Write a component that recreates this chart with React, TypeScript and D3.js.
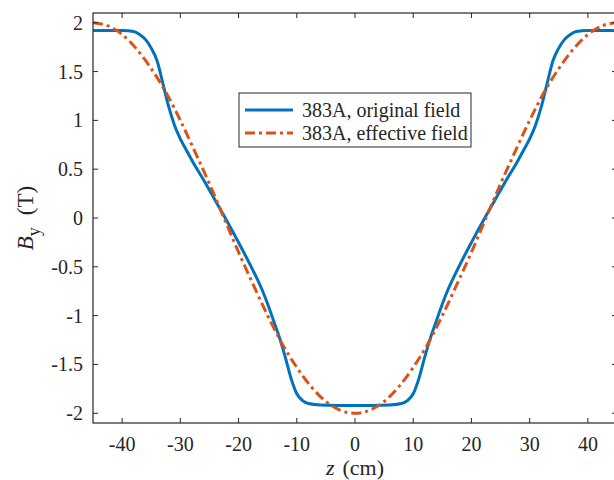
import React from "react";
import * as d3 from "d3";

// original field
const zOriginal = [
  -45, -40, -38, -37, -36, -35, -34, -33, -32, -31, -30, -29, -28, -26, -24, -22,
  -20, -18, -16, -15, -14, -13, -12, -11, -10, -9, -8, -6, -3, 0, 3, 6, 8, 9, 10,
  11, 12, 13, 14, 15, 16, 18, 20, 22, 24, 26, 28, 29, 30, 31, 32, 33, 34, 35, 36,
  37, 38, 40, 45,
];
const bOriginal = [
  1.92, 1.92, 1.91, 1.88, 1.83, 1.74, 1.61, 1.38, 1.14, 0.95, 0.81, 0.7, 0.59,
  0.39, 0.18, -0.03, -0.25, -0.48, -0.73, -0.88, -1.05, -1.22, -1.42, -1.64, -1.8,
  -1.87, -1.9, -1.915, -1.92, -1.92, -1.92, -1.915, -1.9, -1.87, -1.8, -1.64,
  -1.42, -1.22, -1.05, -0.88, -0.73, -0.48, -0.25, -0.03, 0.18, 0.39, 0.59, 0.7,
  0.81, 0.95, 1.14, 1.38, 1.61, 1.74, 1.83, 1.88, 1.91, 1.92, 1.92,
];

// effective field
const zEffective = [
  -45, -42.5, -40, -37.5, -35, -32.5, -30, -27.5, -25, -22.5, -20, -17.5, -15,
  -12.5, -10, -7.5, -5, -2.5, 0, 2.5, 5, 7.5, 10, 12.5, 15, 17.5, 20, 22.5, 25,
  27.5, 30, 32.5, 35, 37.5, 40, 42.5, 45,
];
const bEffective = [
  2.0, 1.97, 1.88, 1.73, 1.53, 1.29, 1.0, 0.68, 0.35, 0.0, -0.35, -0.68, -1.0,
  -1.29, -1.53, -1.73, -1.88, -1.97, -2.0, -1.97, -1.88, -1.73, -1.53, -1.29,
  -1.0, -0.68, -0.35, 0.0, 0.35, 0.68, 1.0, 1.29, 1.53, 1.73, 1.88, 1.97, 2.0,
];

const xTicks = [-40, -30, -20, -10, 0, 10, 20, 30, 40];
const yTicks = [-2, -1.5, -1, -0.5, 0, 0.5, 1, 1.5, 2];
const seriesNames = ["383A, original field", "383A, effective field"];

const W = 614;
const H = 480;
const left = 93;
const right = 617;
const top = 13;
const bottom = 423;
const font = "'Liberation Serif', 'Times New Roman', serif";
const axisColor = "#262626";
const blue = "#0072BD";
const orange = "#D95319";

export default function App() {
  const x = d3.scaleLinear().domain([-45, 45]).range([left, right]);
  const y = d3.scaleLinear().domain([-2.1, 2.1]).range([bottom, top]);

  const line = d3
    .line<[number, number]>()
    .x((d) => x(d[0]))
    .y((d) => y(d[1]))
    .curve(d3.curveMonotoneX);

  const orig = zOriginal.map((z, i) => [z, bOriginal[i]] as [number, number]);
  const eff = zEffective.map((z, i) => [z, bEffective[i]] as [number, number]);

  const fmt = (v: number) => String(v);

  return (
    <svg
      width={W}
      height={H}
      style={{ position: "absolute", left: 0, top: 0, background: "#fff" }}
      fontFamily={font}
    >
      <defs>
        <clipPath id="plot">
          <rect x={left} y={top} width={right - left} height={bottom - top} />
        </clipPath>
      </defs>

      <g clipPath="url(#plot)" fill="none">
        <path d={line(orig) || ""} stroke={blue} strokeWidth={3} />
        <path
          d={line(eff) || ""}
          stroke={orange}
          strokeWidth={3}
          strokeDasharray="10,4,3,4"
        />
      </g>

      {/* box */}
      <rect
        x={left}
        y={top}
        width={right - left}
        height={bottom - top}
        fill="none"
        stroke={axisColor}
        strokeWidth={1.2}
      />

      {xTicks.map((t) => (
        <g key={"x" + t}>
          <line x1={x(t)} x2={x(t)} y1={bottom} y2={bottom - 5} stroke={axisColor} />
          <line x1={x(t)} x2={x(t)} y1={top} y2={top + 5} stroke={axisColor} />
          <text
            x={x(t)}
            y={451}
            textAnchor="middle"
            fontSize={20}
            fill={axisColor}
          >
            {fmt(t)}
          </text>
        </g>
      ))}

      {yTicks.map((t) => (
        <g key={"y" + t}>
          <line x1={left} x2={left + 5} y1={y(t)} y2={y(t)} stroke={axisColor} />
          <line x1={right} x2={right - 5} y1={y(t)} y2={y(t)} stroke={axisColor} />
          <text
            x={83}
            y={y(t)}
            dy="0.35em"
            textAnchor="end"
            fontSize={20}
            fill={axisColor}
          >
            {fmt(t)}
          </text>
        </g>
      ))}

      {/* axis labels */}
      <text x={355} y={475} textAnchor="middle" fontSize={22} fill={axisColor}>
        <tspan fontStyle="italic">z</tspan>
        <tspan dx={8}>(cm)</tspan>
      </text>
      <text
        transform={`translate(33, ${y(0)}) rotate(-90)`}
        textAnchor="middle"
        fontSize={23}
        fill={axisColor}
      >
        <tspan fontStyle="italic">B</tspan>
        <tspan fontSize={18} dy={7}>y</tspan>
        <tspan dy={-7} dx={12}>(T)</tspan>
      </text>

      {/* legend */}
      <g>
        <rect
          x={239}
          y={93}
          width={232}
          height={54}
          fill="#fff"
          stroke={axisColor}
          strokeWidth={1}
        />
        <line x1={245} x2={293} y1={110} y2={110} stroke={blue} strokeWidth={3} />
        <line
          x1={245}
          x2={293}
          y1={133}
          y2={133}
          stroke={orange}
          strokeWidth={3}
          strokeDasharray="10,4,3,4"
        />
        {seriesNames.map((s, i) => (
          <text
            key={s}
            x={302}
            y={110 + i * 23}
            dy="0.35em"
            fontSize={20}
            fill={axisColor}
          >
            {s}
          </text>
        ))}
      </g>
    </svg>
  );
}
